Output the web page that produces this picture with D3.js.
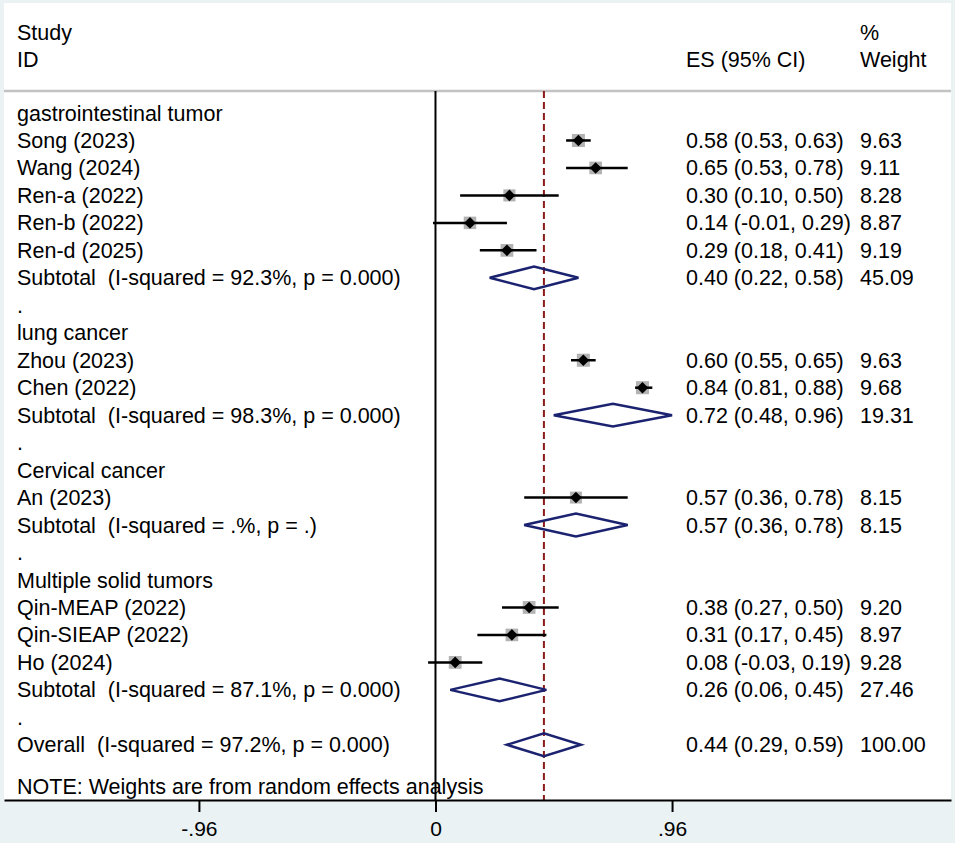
<!DOCTYPE html>
<html>
<head>
<meta charset="utf-8">
<script src="https://cdn.jsdelivr.net/npm/d3@7"></script>
<style>
  body { margin: 0; background: #eaf2f3; }
  text { font-family: "Liberation Sans", Arial, sans-serif; font-size: 21.5px; fill: #000; white-space: pre; }
</style>
</head>
<body>
<svg id="chart" width="955" height="843"></svg>
<script>
// subgroup names
var groups = ["gastrointestinal tumor", "lung cancer", "Cervical cancer", "Multiple solid tumors"];

// individual studies
var studyNames = ["Song (2023)", "Wang (2024)", "Ren-a (2022)", "Ren-b (2022)", "Ren-d (2025)",
                  "Zhou (2023)", "Chen (2022)",
                  "An (2023)",
                  "Qin-MEAP (2022)", "Qin-SIEAP (2022)", "Ho (2024)"];
var studyGroup  = [0, 0, 0, 0, 0, 1, 1, 2, 3, 3, 3];
var studyES     = [0.58, 0.65, 0.30, 0.14, 0.29, 0.60, 0.84, 0.57, 0.38, 0.31, 0.08];
var studyLo     = [0.53, 0.53, 0.10, -0.01, 0.18, 0.55, 0.81, 0.36, 0.27, 0.17, -0.03];
var studyHi     = [0.63, 0.78, 0.50, 0.29, 0.41, 0.65, 0.88, 0.78, 0.50, 0.45, 0.19];
var studyWeight = [9.63, 9.11, 8.28, 8.87, 9.19, 9.63, 9.68, 8.15, 9.20, 8.97, 9.28];

// subgroup pooled estimates
var subI2     = ["92.3%", "98.3%", ".%", "87.1%"];
var subP      = ["0.000", "0.000", ".", "0.000"];
var subES     = [0.40, 0.72, 0.57, 0.26];
var subLo     = [0.22, 0.48, 0.36, 0.06];
var subHi     = [0.58, 0.96, 0.78, 0.45];
var subWeight = [45.09, 19.31, 8.15, 27.46];

// overall pooled estimate
var overallI2 = "97.2%", overallP = "0.000";
var overallES = 0.44, overallLo = 0.29, overallHi = 0.59, overallWeight = 100.00;

var xTicks = [-0.96, 0, 0.96];

// build the row list
var rows = [];
groups.forEach(function(g, gi)
{
    rows.push({type: "group", label: g});
    studyNames.forEach(function(s, i)
    {
        if (studyGroup[i] === gi)
            rows.push({type: "study", label: s, es: studyES[i], lo: studyLo[i], hi: studyHi[i], w: studyWeight[i]});
    });
    rows.push({type: "sub", label: "Subtotal  (I-squared = " + subI2[gi] + ", p = " + subP[gi] + ")",
               es: subES[gi], lo: subLo[gi], hi: subHi[gi], w: subWeight[gi]});
    rows.push({type: "dot", label: "."});
});
rows.push({type: "sub", label: "Overall  (I-squared = " + overallI2 + ", p = " + overallP + ")",
           es: overallES, lo: overallLo, hi: overallHi, w: overallWeight});
rows.forEach(function(r, i) { r.i = i; });

var svg = d3.select("#chart");
var W = 955, H = 843;
var plotTop = 91, axisY = 800;

var x = d3.scaleLinear().domain([-1.751, 2.092]).range([4, 951]);
var y = d3.scaleLinear().domain([0, 24.5]).range([113, 786]);

var f2 = function(v) { return d3.format(".2f")(v).replace("\u2212", "-"); };

// background
svg.append("rect").attr("width", W).attr("height", H).attr("fill", "#eaf2f3");
svg.append("rect").attr("x", 4).attr("y", 3).attr("width", 947).attr("height", axisY - 3).attr("fill", "#fff");

// header
var header = svg.append("g");
header.append("text").attr("x", 17).attr("y", 32).attr("dy", "0.35em").text("Study");
header.append("text").attr("x", 17).attr("y", 59).attr("dy", "0.35em").text("ID");
header.append("text").attr("x", 686).attr("y", 59).attr("dy", "0.35em").text("ES (95% CI)");
header.append("text").attr("x", 860).attr("y", 32).attr("dy", "0.35em").text("%");
header.append("text").attr("x", 860).attr("y", 59).attr("dy", "0.35em").text("Weight");
svg.append("line").attr("x1", 4).attr("x2", 951).attr("y1", plotTop).attr("y2", plotTop)
    .attr("stroke", "#c2c2c2").attr("stroke-width", 2.5);

// zero line and overall line
svg.append("line").attr("x1", x(0)).attr("x2", x(0)).attr("y1", plotTop).attr("y2", axisY)
    .attr("stroke", "#000").attr("stroke-width", 2);
svg.append("line").attr("x1", x(overallES)).attr("x2", x(overallES)).attr("y1", plotTop).attr("y2", axisY)
    .attr("stroke", "#8b1a1a").attr("stroke-width", 2).attr("stroke-dasharray", "7,4");

// row labels
svg.append("g").selectAll("text")
    .data(rows)
    .enter().append("text")
    .attr("x", 17)
    .attr("y", function(d) { return y(d.i); })
    .attr("dy", "0.35em")
    .text(function(d) { return d.label; });

var est = rows.filter(function(d) { return d.es !== undefined; });

svg.append("g").selectAll("text")
    .data(est)
    .enter().append("text")
    .attr("x", 686)
    .attr("y", function(d) { return y(d.i); })
    .attr("dy", "0.35em")
    .text(function(d) { return f2(d.es) + " (" + f2(d.lo) + ", " + f2(d.hi) + ")"; });

svg.append("g").selectAll("text")
    .data(est)
    .enter().append("text")
    .attr("x", 860)
    .attr("y", function(d) { return y(d.i); })
    .attr("dy", "0.35em")
    .text(function(d) { return f2(d.w); });

// study markers
var studies = svg.append("g").selectAll("g")
    .data(rows.filter(function(d) { return d.type === "study"; }))
    .enter().append("g")
    .attr("transform", function(d) { return "translate(0," + y(d.i) + ")"; });

studies.append("rect")
    .attr("x", function(d) { return x(d.es) - 2.1 * Math.sqrt(d.w); })
    .attr("y", function(d) { return -2.1 * Math.sqrt(d.w); })
    .attr("width", function(d) { return 4.2 * Math.sqrt(d.w); })
    .attr("height", function(d) { return 4.2 * Math.sqrt(d.w); })
    .attr("fill", "#b3b3b3");

studies.append("line")
    .attr("x1", function(d) { return x(d.lo); })
    .attr("x2", function(d) { return x(d.hi); })
    .attr("stroke", "#000").attr("stroke-width", 2.5);

studies.append("path")
    .attr("d", function(d)
    {
        var cx = x(d.es), s = 5.8;
        return "M" + (cx - s) + ",0L" + cx + "," + (-s) + "L" + (cx + s) + ",0L" + cx + "," + s + "Z";
    })
    .attr("fill", "#000");

// pooled diamonds
svg.append("g").selectAll("path")
    .data(rows.filter(function(d) { return d.type === "sub"; }))
    .enter().append("path")
    .attr("d", function(d)
    {
        var cy = y(d.i), h = 11.4;
        return "M" + x(d.lo) + "," + cy + "L" + x(d.es) + "," + (cy - h)
             + "L" + x(d.hi) + "," + cy + "L" + x(d.es) + "," + (cy + h) + "Z";
    })
    .attr("fill", "none").attr("stroke", "#1b2370").attr("stroke-width", 2.5);

// note
svg.append("text").attr("x", 17).attr("y", y(24.5)).attr("dy", "0.35em")
    .text("NOTE: Weights are from random effects analysis");

// x axis
var axis = svg.append("g")
    .attr("transform", "translate(0," + axisY + ")")
    .call(d3.axisBottom(x)
        .tickValues(xTicks)
        .tickSize(12)
        .tickSizeOuter(0)
        .tickFormat(function(v) { return v === 0 ? "0" : d3.format(".2f")(v).replace("\u2212", "-").replace("0.", "."); }));
axis.select(".domain").attr("stroke", "#000").attr("stroke-width", 2);
axis.selectAll(".tick line").attr("stroke", "#000").attr("stroke-width", 2);
axis.selectAll(".tick text")
    .attr("y", 29).attr("dy", "0.35em")
    .style("font-family", "\"Liberation Sans\", Arial, sans-serif")
    .style("font-size", "21px")
    .attr("fill", "#000");
</script>
</body>
</html>
